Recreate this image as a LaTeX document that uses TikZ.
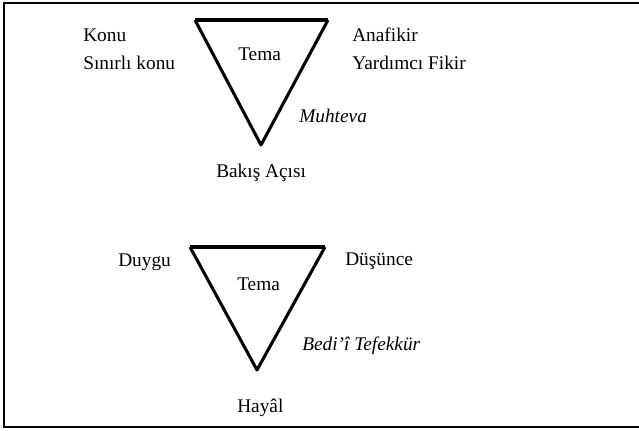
\documentclass[tikz,border=0pt]{standalone}
\usepackage{fontspec}
\setmainfont{Liberation Serif}
\usepackage{tikz}
\usetikzlibrary{positioning, calc}

\begin{document}
\begin{tikzpicture}[x=0.75pt, y=-0.75pt, every node/.style={inner sep=0pt, font=\fontsize{14.5}{17}\selectfont}]

\tikzstyle{frameline}=[line width=1.6pt]
\tikzstyle{triline}=[line width=2.3pt, line join=round]
\tikzstyle{lbl}=[anchor=base west]
\tikzstyle{lblit}=[anchor=base west, font=\fontsize{14.5}{17}\selectfont\itshape]

\useasboundingbox (0,0) rectangle (639,430);

% frame
\coordinate (f1) at (639,3);
\coordinate (f2) at (4,3);
\coordinate (f3) at (4,427);
\coordinate (f4) at (639,427);
\draw [frameline] (f1) -- (f2) -- (f3) -- (f4);

% upper triangle
\coordinate (a1) at (195,20);
\coordinate (a2) at (328,20);
\coordinate (a3) at (261,145);
\draw [triline] (a1) -- (a2);
\draw [triline] (a1) -- (a3) -- (a2);

\node (konu) at (83,41) [lbl] {Konu};
\node (sinirli) at (83,69) [lbl] {Sınırlı konu};
\node (tema1) at (238,60) [lbl] {Tema};
\node (anafikir) at (352,41) [lbl] {Anafikir};
\node (yardimci) at (352,69) [lbl] {Yardımcı Fikir};
\node (muhteva) at (299,122) [lblit] {Muhteva};
\node (bakis) at (216,177) [lbl] {Bakış Açısı};

% lower triangle
\coordinate (b1) at (190,247);
\coordinate (b2) at (325,247);
\coordinate (b3) at (257,370);
\draw [triline] (b1) -- (b2);
\draw [triline] (b1) -- (b3) -- (b2);

\node (duygu) at (118,266) [lbl] {Duygu};
\node (tema2) at (237,290) [lbl] {Tema};
\node (dusunce) at (345,265) [lbl] {Düşünce};
\node (bedii) at (302,350) [lblit] {Bedi'î Tefekkür};
\node (hayal) at (237,412) [lbl] {Hayâl};

\end{tikzpicture}
\end{document}
